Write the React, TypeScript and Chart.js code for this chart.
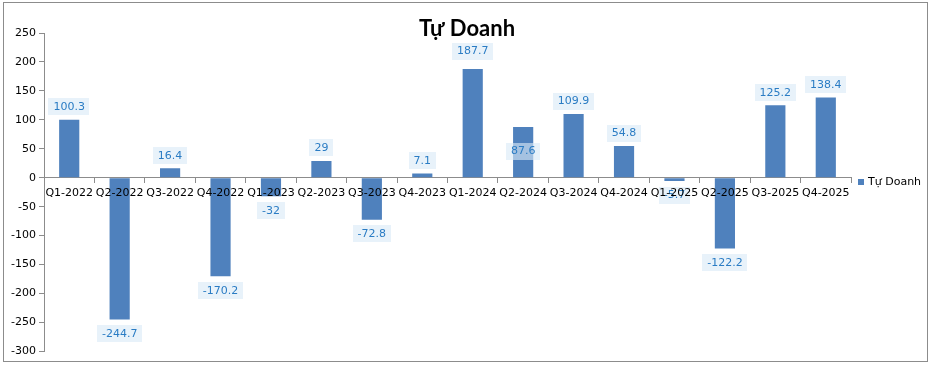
import React, { useEffect, useRef } from "react";
import { Chart, registerables } from "chart.js";

Chart.register(...registerables);

const categories = [
  "Q1-2022", "Q2-2022", "Q3-2022", "Q4-2022",
  "Q1-2023", "Q2-2023", "Q3-2023", "Q4-2023",
  "Q1-2024", "Q2-2024", "Q3-2024", "Q4-2024",
  "Q1-2025", "Q2-2025", "Q3-2025", "Q4-2025",
];
const values = [
  100.3, -244.7, 16.4, -170.2,
  -32, 29, -72.8, 7.1,
  187.7, 87.6, 109.9, 54.8,
  -5.7, -122.2, 125.2, 138.4,
];
const seriesName = "Tự Doanh";
const titleText = "Tự Doanh";
const yMin = -300;
const yMax = 250;
const yStep = 50;

const BAR = "#4f81bd";
const FONT = "'DejaVu Sans', sans-serif";

// label placement tweaks (style only)
const labelShift: Record<string, number> = { "Q2-2024": 37, "Q1-2024": -5 };

const labelPlugin = {
  id: "valueLabels",
  afterDraw(chart: any) {
    const ctx = chart.ctx;
    const meta = chart.getDatasetMeta(0);
    const xs = chart.scales.x;
    const ys = chart.scales.y;
    ctx.save();
    ctx.font = `11px ${FONT}`;
    ctx.textAlign = "center";
    // value labels
    ctx.textBaseline = "middle";
    meta.data.forEach((el: any, i: number) => {
      const v = values[i];
      const txt = String(v);
      let cy = v >= 0 ? el.y - 13 : el.y + 14;
      cy += labelShift[categories[i]] || 0;
      const w = ctx.measureText(txt).width + 10;
      const h = 17;
      ctx.fillStyle = "rgba(218,234,247,0.62)";
      ctx.fillRect(Math.round(el.x - w / 2), Math.round(cy - h / 2), Math.round(w), h);
      ctx.fillStyle = "#2a7cc4";
      ctx.fillText(txt, el.x, cy + 0.5);
    });
    // category tick labels, drawn above the bars
    ctx.textBaseline = "top";
    ctx.fillStyle = "#000";
    const axisY = ys.getPixelForValue(0);
    xs.ticks.forEach((_t: any, i: number) => {
      ctx.fillText(xs.getLabelForValue(i), xs.getPixelForTick(i), axisY + 10);
    });
    ctx.restore();
  },
};

const titleLegendPlugin = {
  id: "titleLegend",
  afterDraw(chart: any) {
    const ctx = chart.ctx;
    const area = chart.chartArea;
    ctx.save();
    ctx.font = `bold 22px Lato, sans-serif`;
    ctx.fillStyle = "#000";
    ctx.textAlign = "center";
    ctx.textBaseline = "middle";
    ctx.fillText(titleText, 463, 26);
    const ly = chart.height / 2;
    ctx.fillStyle = BAR;
    ctx.fillRect(area.right + 7, ly - 3, 6, 6);
    ctx.font = `11px ${FONT}`;
    ctx.fillStyle = "#000";
    ctx.textAlign = "left";
    ctx.fillText(seriesName, area.right + 17, ly + 0.5);
    ctx.restore();
  },
};

export default function App() {
  const ref = useRef<HTMLCanvasElement | null>(null);
  useEffect(() => {
    if (!ref.current) return;
    const chart = new Chart(ref.current, {
      type: "bar",
      data: {
        labels: categories,
        datasets: [
          {
            label: seriesName,
            data: values,
            backgroundColor: BAR,
            barPercentage: 0.4,
            categoryPercentage: 1,
          },
        ],
      },
      options: {
        animation: false,
        responsive: true,
        maintainAspectRatio: false,
        layout: { padding: { top: 30, bottom: 7, left: 0, right: 76 } },
        plugins: {
          legend: { display: false },
          title: { display: false },
          tooltip: { enabled: false },
        },
        scales: {
          x: {
            type: "category",
            position: { y: 0 } as any,
            offset: true,
            grid: {
              display: true,
              drawOnChartArea: false,
              offset: true,
              tickLength: 5,
              color: "#8c8c8c",
            },
            border: { color: "#8c8c8c" },
            ticks: {
              font: { family: FONT, size: 11 },
              color: "rgba(0,0,0,0)",
              maxRotation: 0,
              minRotation: 0,
              autoSkip: false,
              padding: 2,
            },
          },
          y: {
            min: yMin,
            max: yMax,
            grid: {
              display: true,
              drawOnChartArea: false,
              tickLength: 5,
              color: "#8c8c8c",
            },
            border: { color: "#8c8c8c" },
            ticks: {
              stepSize: yStep,
              font: { family: FONT, size: 11 },
              color: "#000",
              padding: 3,
            },
            afterFit(scale: any) {
              scale.width = 40;
            },
          },
        },
      },
      plugins: [labelPlugin, titleLegendPlugin],
    });
    return () => chart.destroy();
  }, []);
  return (
    <div
      style={{
        position: "fixed",
        left: 3,
        top: 2,
        width: 925,
        height: 360,
        border: "1px solid #8c8c8c",
        boxSizing: "border-box",
        background: "#fff",
      }}
    >
      <canvas ref={ref} />
    </div>
  );
}
